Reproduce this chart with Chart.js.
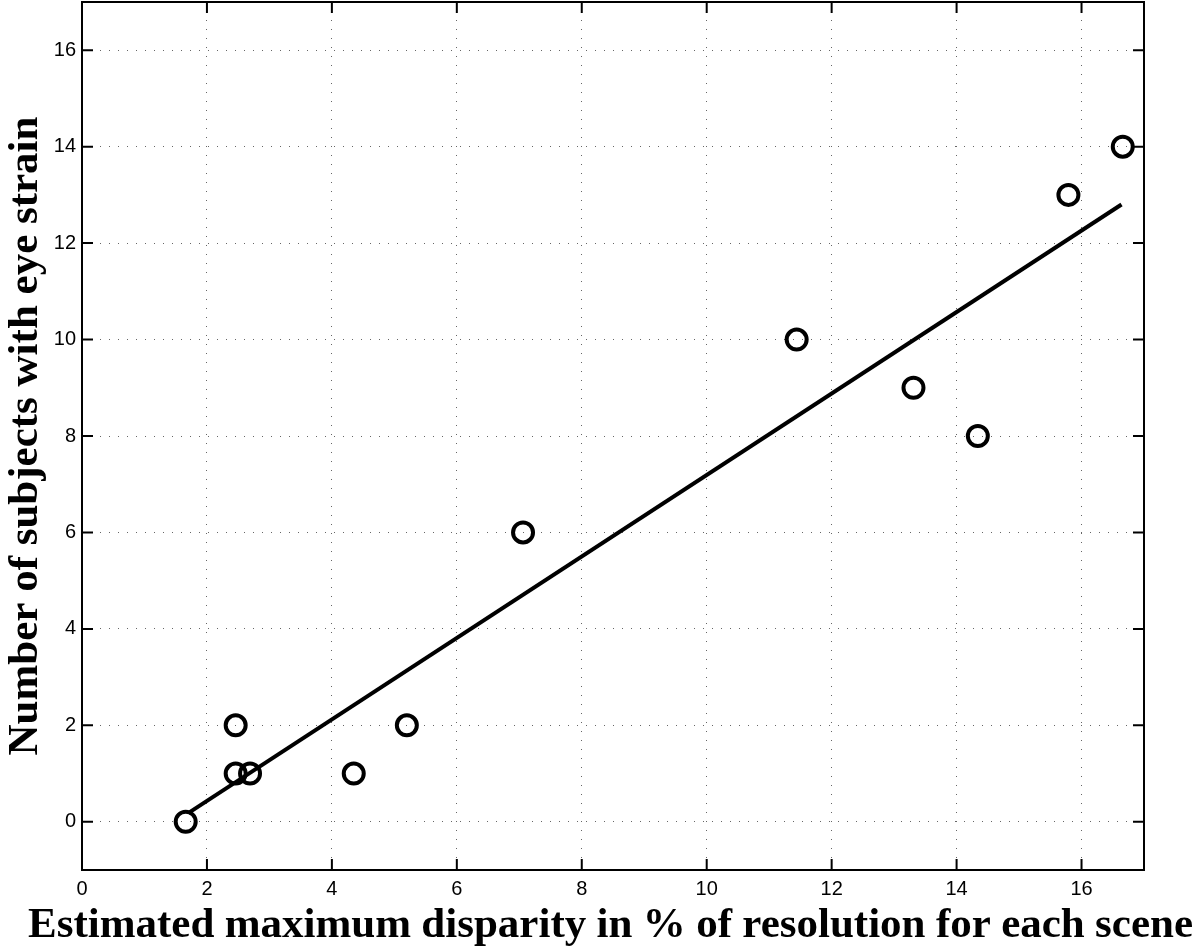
<!DOCTYPE html>
<html>
<head>
<meta charset="utf-8">
<script src="https://cdn.jsdelivr.net/npm/chart.js@4/dist/chart.umd.min.js"></script>
<style>
  html, body { margin: 0; padding: 0; background: #fff; }
  #wrap { width: 1200px; height: 948px; }
</style>
</head>
<body>
<div id="wrap"><canvas id="chart" width="1200" height="948"></canvas></div>
<script>
// values
const disparity = [1.66, 2.46, 2.46, 2.69, 4.35, 5.2, 7.06, 11.44, 13.31, 14.34, 15.79, 16.66];
const subjects  = [0, 2, 1, 1, 1, 2, 6, 10, 9, 8, 13, 14];
const fitX = [1.7, 16.64];
const fitY = [0.18, 12.8];
const xTicks = [0, 2, 4, 6, 8, 10, 12, 14, 16];
const yTicks = [0, 2, 4, 6, 8, 10, 12, 14, 16];

const xTitle = 'Estimated maximum disparity in % of resolution for each scene';
const yTitle = 'Number of subjects with eye strain';

const titleFont = 'bold 43px Liberation Serif, Times New Roman, serif';

// matlab style frame: box + inward ticks on all four sides, x label under it
const framePlugin = {
  id: 'frame',
  afterDraw(chart) {
    const { ctx, chartArea: a, scales } = chart;
    const len = 11;
    ctx.save();
    ctx.strokeStyle = '#000';
    ctx.lineWidth = 2;
    ctx.beginPath();
    for (const v of xTicks) {
      const px = scales.x.getPixelForValue(v);
      ctx.moveTo(px, a.bottom); ctx.lineTo(px, a.bottom - len);
      ctx.moveTo(px, a.top); ctx.lineTo(px, a.top + len);
    }
    for (const v of yTicks) {
      const py = scales.y.getPixelForValue(v);
      ctx.moveTo(a.left, py); ctx.lineTo(a.left + len, py);
      ctx.moveTo(a.right, py); ctx.lineTo(a.right - len, py);
    }
    ctx.stroke();
    ctx.strokeRect(a.left, a.top, a.right - a.left, a.bottom - a.top);

    // x title: the original has wide word spacing, so lay the words out by hand
    ctx.font = titleFont;
    ctx.fillStyle = '#000';
    ctx.textAlign = 'left';
    ctx.textBaseline = 'alphabetic';
    const words = xTitle.split(' ');
    const widths = words.map(w => ctx.measureText(w).width);
    const span = 1165, x0 = 28;
    const gap = (span - widths.reduce((s, w) => s + w, 0)) / (words.length - 1);
    let x = x0;
    words.forEach((w, i) => { ctx.fillText(w, x, 937); x += widths[i] + gap; });
    ctx.restore();
  }
};

const gridOpts = { color: '#666', lineWidth: 1, drawTicks: false };
const borderOpts = { display: false, dash: [1, 8] };

new Chart(document.getElementById('chart'), {
  type: 'scatter',
  data: {
    datasets: [
      {
        label: 'fit',
        type: 'line',
        data: fitX.map((x, i) => ({ x, y: fitY[i] })),
        borderColor: '#000',
        borderWidth: 4,
        pointRadius: 0,
        fill: false,
        order: 1
      },
      {
        label: 'scenes',
        data: disparity.map((x, i) => ({ x, y: subjects[i] })),
        pointStyle: 'circle',
        pointRadius: 10,
        pointBorderWidth: 4,
        pointBorderColor: '#000',
        pointBackgroundColor: 'rgba(0,0,0,0)',
        order: 2
      }
    ]
  },
  options: {
    responsive: false,
    animation: false,
    devicePixelRatio: 1,
    layout: { autoPadding: false, padding: { top: 2, right: 56, left: 0, bottom: 0 } },
    plugins: { legend: { display: false }, tooltip: { enabled: false } },
    scales: {
      x: {
        type: 'linear',
        min: 0, max: 17,
        afterBuildTicks: (s) => { s.ticks = xTicks.map(v => ({ value: v })); },
        afterFit: (s) => { s.height = 78; },
        grid: gridOpts,
        border: borderOpts,
        ticks: {
          color: '#000',
          padding: 7,
          font: { family: 'Liberation Sans, Arial, sans-serif', size: 20 }
        }
      },
      y: {
        type: 'linear',
        min: -1, max: 17,
        afterBuildTicks: (s) => { s.ticks = yTicks.map(v => ({ value: v })); },
        // fixed width, and no extra top/bottom padding for the end labels
        afterFit: (s) => { s.width = 82; s.paddingTop = 0; s.paddingBottom = 0; },
        grid: gridOpts,
        border: borderOpts,
        ticks: {
          color: '#000',
          padding: 6,
          font: { family: 'Liberation Sans, Arial, sans-serif', size: 20 }
        },
        title: {
          display: true,
          text: yTitle,
          color: '#000',
          padding: 0,
          font: { family: 'Liberation Serif, Times New Roman, serif', size: 43, weight: 'bold', lineHeight: 1.2 }
        }
      }
    }
  },
  plugins: [framePlugin]
});
</script>
</body>
</html>
